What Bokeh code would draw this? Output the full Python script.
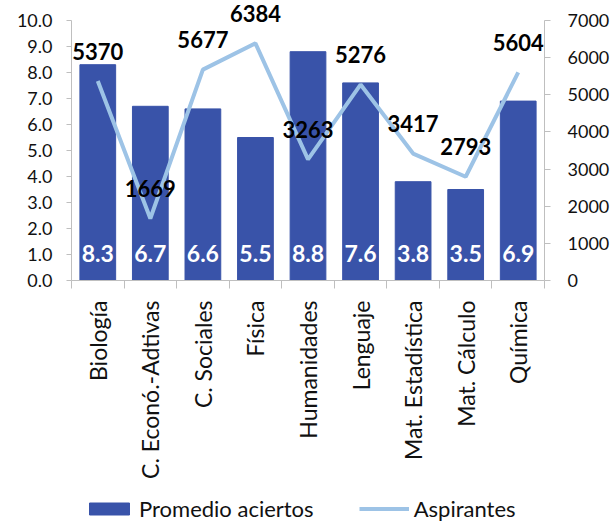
from bokeh.plotting import figure
from bokeh.models import (ColumnDataSource, Range1d, LinearAxis, FixedTicker,
                          Legend, LegendItem, NumeralTickFormatter)
from bokeh.layouts import column
from bokeh.embed import file_html
from bokeh.resources import INLINE
from bokeh.core.properties import value
import math

categories = ["Biología", "C. Econó.-Adtivas", "C. Sociales", "Física", "Humanidades",
              "Lenguaje", "Mat. Estadística", "Mat. Cálculo", "Química"]
promedio = [8.3, 6.7, 6.6, 5.5, 8.8, 7.6, 3.8, 3.5, 6.9]
aspirantes = [5370, 1669, 5677, 6384, 3263, 5276, 3417, 2793, 5604]
left_ticks = [0, 1, 2, 3, 4, 5, 6, 7, 8, 9, 10]
right_ticks = [0, 1000, 2000, 3000, 4000, 5000, 6000, 7000]
series_names = ["Promedio aciertos", "Aspirantes"]
LEFT_MAX = 10
RIGHT_MAX = 7000

xs = list(range(1, len(categories) + 1))
src = ColumnDataSource(dict(
    x=xs, cat=categories, prom=promedio, asp=aspirantes,
    prom_lbl=[f"{v:.1f}" for v in promedio],
    asp_lbl=[str(v) for v in aspirantes],
    zero=[0] * len(xs),
))

FONT = "Lato"
BAR = "#3953A9"
LINE = "#9DC3E6"
AX = "#BFBFBF"
TXT = "#111111"

AXIS_PX = 260
FRAME_H = 280
ext = FRAME_H / AXIS_PX
W = 608

p = figure(frame_width=473, frame_height=FRAME_H, output_backend="svg",
           toolbar_location=None,
           x_range=Range1d(0.5, 9.5), y_range=Range1d(0, LEFT_MAX * ext),
           min_border_left=71, min_border_right=W - 71 - 473, min_border_top=0,
           min_border_bottom=0)
p.outline_line_color = None
p.grid.visible = False
p.extra_y_ranges = {"asp": Range1d(0, RIGHT_MAX * ext)}

bars = p.vbar(x="x", top="prom", width=0.68, source=src, color=BAR)
line = p.line(x="x", y="asp", source=src, y_range_name="asp", line_color=LINE, line_width=4)

p.text(x="x", y="zero", text="prom_lbl", source=src, text_color="white",
       text_font=value(FONT), text_font_style="bold", text_font_size="23px",
       text_align="center", text_baseline="alphabetic", y_offset=-27)
p.text(x="x", y="asp", text="asp_lbl", source=src, y_range_name="asp",
       text_color="black", text_font=value(FONT), text_font_style="bold",
       text_font_size="22px", text_align="center", text_baseline="alphabetic",
       y_offset=-30)

xa = p.xaxis[0]
xa.ticker = FixedTicker(ticks=xs, minor_ticks=[i + 0.5 for i in range(0, len(xs) + 1)])
xa.major_label_overrides = {x: c for x, c in zip(xs, categories)}
xa.major_label_orientation = math.pi / 2
xa.major_tick_line_color = None
xa.minor_tick_out = 8
xa.minor_tick_in = 0
xa.minor_tick_line_color = AX
xa.axis_line_color = AX
xa.major_label_text_font = FONT
xa.major_label_text_font_size = "23px"
xa.major_label_text_color = TXT
xa.major_label_standoff = 12

ya = p.yaxis[0]
ya.ticker = FixedTicker(ticks=left_ticks)
ya.bounds = (0, LEFT_MAX)
ya.formatter = NumeralTickFormatter(format="0.0")
ya.minor_tick_line_color = None
ya.major_tick_out = 5
ya.major_tick_in = 0
ya.major_tick_line_color = AX
ya.axis_line_color = AX
ya.major_label_text_font = FONT
ya.major_label_text_font_size = "18px"
ya.major_label_text_color = TXT
ya.major_label_standoff = 14

ra = LinearAxis(y_range_name="asp", ticker=FixedTicker(ticks=right_ticks),
                bounds=(0, RIGHT_MAX))
ra.minor_tick_line_color = None
ra.major_tick_out = 6
ra.major_tick_in = 0
ra.major_tick_line_color = AX
ra.axis_line_color = AX
ra.major_label_text_font = FONT
ra.major_label_text_font_size = "18px"
ra.major_label_text_color = TXT
ra.major_label_standoff = 17
p.add_layout(ra, "right")

# legend strip: a small figure below the chart; its renderers are hidden,
# only the legend swatches and labels are shown
lg = figure(width=W, height=41, output_backend="svg", toolbar_location=None,
            x_axis_location=None, y_axis_location=None,
            x_range=Range1d(0.5, 9.5), y_range=Range1d(-2, -1),
            min_border=0, outline_line_color=None)
lg.grid.visible = False
sw_bar = lg.vbar(x="x", top="prom", width=0.68, source=src, color=BAR)
sw_line = lg.line(x="x", y="asp", source=src, line_color=LINE, line_width=4)
sw_bar.visible = False
sw_line.visible = False
legend = Legend(items=[LegendItem(label=series_names[0], renderers=[sw_bar]),
                       LegendItem(label=series_names[1], renderers=[sw_line])],
                orientation="horizontal", border_line_color=None,
                background_fill_alpha=0, location=(13, 0), click_policy="none",
                label_text_font=FONT, label_text_font_size="22px",
                label_text_color=TXT,
                glyph_width=50, glyph_height=15, spacing=45,
                label_standoff=5, margin=0, padding=0)
lg.add_layout(legend, "center")

layout = column(p, lg, spacing=0)
open("out.html", "w").write(file_html(layout, INLINE))
